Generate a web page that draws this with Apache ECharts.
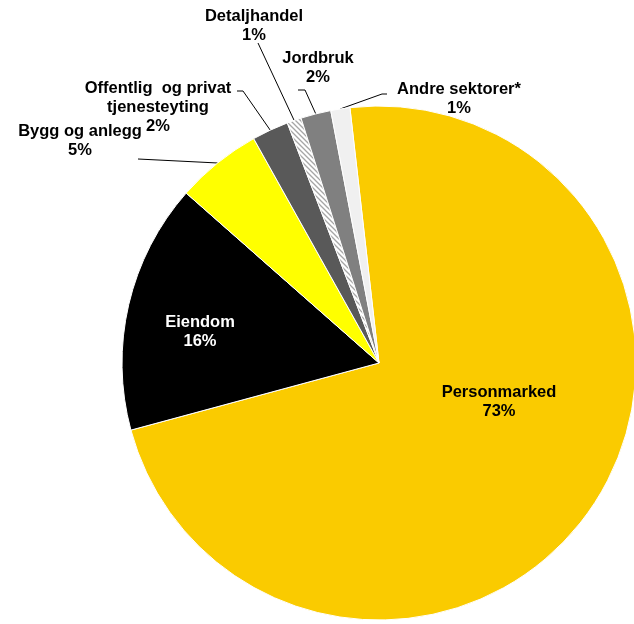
<!DOCTYPE html>
<html>
<head>
<meta charset="utf-8">
<script src="https://cdn.jsdelivr.net/npm/echarts@6/dist/echarts.min.js"></script>
<style>
  html, body { margin: 0; padding: 0; background: #ffffff; }
  #chart { width: 634px; height: 624px; }
</style>
</head>
<body>
<div id="chart"></div>
<script>
// Lending by sector, share of total (%)
const sectors = [
  'Personmarked',
  'Eiendom',
  'Bygg og anlegg',
  'Offentlig  og privat\ntjenesteyting',
  'Detaljhandel',
  'Jordbruk',
  'Andre sektorer*'
];
const shares = [72.6, 15.7, 5.4, 2.3, 0.9, 1.9, 1.2];

// Slice fills (Detaljhandel gets a hatched pattern instead)
const sliceColors = ['#FACB00', '#000000', '#FFFF00', '#595959', null, '#808080', '#F0F0F0'];

// Label block centres and leader-line tails (label side) per slice
const labelSpots = [
  { x: 499, y: 402 },
  { x: 200, y: 332 },
  { x: 80,  y: 141, line: [[138, 159], [138, 159]] },
  { x: 158, y: 107, line: [[243, 91], [237, 91]] },
  { x: 254, y: 26,  line: [[258, 43], [258, 43]] },
  { x: 318, y: 68,  line: [[305, 90], [298, 90]] },
  { x: 459, y: 99,  line: [[382, 94], [387, 94]] }
];

function hatchPattern() {
  const c = document.createElement('canvas');
  c.width = 5; c.height = 5;
  const g = c.getContext('2d');
  g.fillStyle = '#ffffff';
  g.fillRect(0, 0, 5, 5);
  g.strokeStyle = '#a6a6a6';
  g.lineWidth = 1.3;
  g.beginPath();
  g.moveTo(-1, -1); g.lineTo(6, 6);
  g.moveTo(-1, 4); g.lineTo(1, 6);
  g.moveTo(4, -1); g.lineTo(6, 1);
  g.stroke();
  return c;
}

const FONT = '"Liberation Sans", Arial, Helvetica, sans-serif';

const seriesData = sectors.map((name, i) => {
  const item = {
    name: name,
    value: shares[i],
    itemStyle: {
      color: sliceColors[i] ? sliceColors[i] : { image: hatchPattern(), repeat: 'repeat' }
    }
  };
  if (i === 0 || i === 1) {
    item.label = { position: 'inside', color: i === 1 ? '#ffffff' : '#000000' };
    item.labelLine = { show: false };
  }
  return item;
});

const chart = echarts.init(document.getElementById('chart'), null, { renderer: 'canvas' });
chart.setOption({
  animation: false,
  backgroundColor: '#ffffff',
  series: [{
    type: 'pie',
    center: [379, 363],
    radius: 257,
    startAngle: 96.5,
    clockwise: true,
    avoidLabelOverlap: false,
    percentPrecision: 0,
    itemStyle: { borderColor: '#ffffff', borderWidth: 1 },
    emphasis: { disabled: true },
    label: {
      show: true,
      position: 'outside',
      formatter: '{b}\n{d}%',
      fontFamily: FONT,
      fontWeight: 'bold',
      fontSize: 16.5,
      lineHeight: 19,
      color: '#000000'
    },
    labelLine: {
      show: true,
      length: 10,
      length2: 10,
      lineStyle: { color: '#000000', width: 1 }
    },
    labelLayout: function (p) {
      const s = labelSpots[p.dataIndex];
      const out = { x: s.x, y: s.y, align: 'center', verticalAlign: 'middle' };
      if (s.line && p.labelLinePoints) {
        out.labelLinePoints = [p.labelLinePoints[0]].concat(s.line);
      }
      return out;
    },
    data: seriesData
  }]
});
</script>
</body>
</html>
